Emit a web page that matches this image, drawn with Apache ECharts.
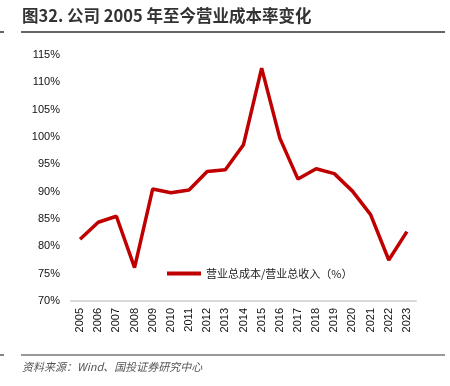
<!DOCTYPE html>
<html><head><meta charset="utf-8">
<script src="https://cdn.jsdelivr.net/npm/echarts@6/dist/echarts.min.js"></script>
<style>html,body{margin:0;padding:0;background:#fff}#c{width:450px;height:386px}</style>
</head><body><div id="c"></div>
<script>
const categories = ['2005','2006','2007','2008','2009','2010','2011','2012','2013','2014','2015','2016','2017','2018','2019','2020','2021','2022','2023'];
const costRatio = [81.3,84.4,85.5,76.1,90.5,89.8,90.3,93.7,94.0,98.6,112.6,99.8,92.3,94.2,93.3,90.1,85.8,77.5,82.7];
const seriesName = '营业总成本/营业总收入（%）';
const titleText = '图32. 公司 2005 年至今营业成本率变化';
const sourceText = '资料来源：Wind、国投证券研究中心';

const chart = echarts.init(document.getElementById('c'));
chart.setOption({
  animation: false,
  grid: {left: 71, right: 34, top: 55, bottom: 85},
  legend: {
    data: [seriesName], left: 162, top: 263, itemWidth: 34, itemHeight: 4, itemGap: 3,
    icon: 'rect',
    textStyle: {fontFamily: 'Noto Sans CJK SC', fontSize: 11, color: '#222'}
  },
  xAxis: {
    type: 'category', data: categories, boundaryGap: true,
    axisLine: {lineStyle: {color: '#d9d9d9', width: 2}},
    axisTick: {show: false},
    axisLabel: {rotate: 90, fontFamily: 'Liberation Sans', fontSize: 11, color: '#111', margin: 7}
  },
  yAxis: {
    type: 'value', min: 70, max: 115, interval: 5,
    axisLine: {show: false}, axisTick: {show: false}, splitLine: {show: false},
    axisLabel: {formatter: '{value}%', fontFamily: 'Liberation Sans', fontSize: 11, color: '#111', margin: 11}
  },
  series: [{
    name: seriesName, type: 'line', data: costRatio, symbol: 'none',
    lineStyle: {color: '#c00000', width: 3.5}, itemStyle: {color: '#c00000'}
  }],
  graphic: [
    {type: 'text', left: 22, top: 7, style: {text: titleText, fontFamily: 'Noto Sans CJK SC', fontSize: 16.5, fontWeight: 'bold', fill: '#333'}},
    {type: 'line', shape: {x1: 21, y1: 32, x2: 445, y2: 32}, style: {stroke: '#333', lineWidth: 1.5}},
    {type: 'line', shape: {x1: 0, y1: 32, x2: 4, y2: 32}, style: {stroke: '#333', lineWidth: 1.5}},
    {type: 'line', shape: {x1: 21, y1: 355, x2: 445, y2: 355}, style: {stroke: '#333', lineWidth: 1.2}},
    {type: 'line', shape: {x1: 0, y1: 355, x2: 4, y2: 355}, style: {stroke: '#333', lineWidth: 1.2}},
    {type: 'text', left: 22, top: 361, style: {text: sourceText, fontFamily: 'Noto Sans CJK SC', fontSize: 11, fontStyle: 'italic', fill: '#555'}}
  ]
});
</script></body></html>
